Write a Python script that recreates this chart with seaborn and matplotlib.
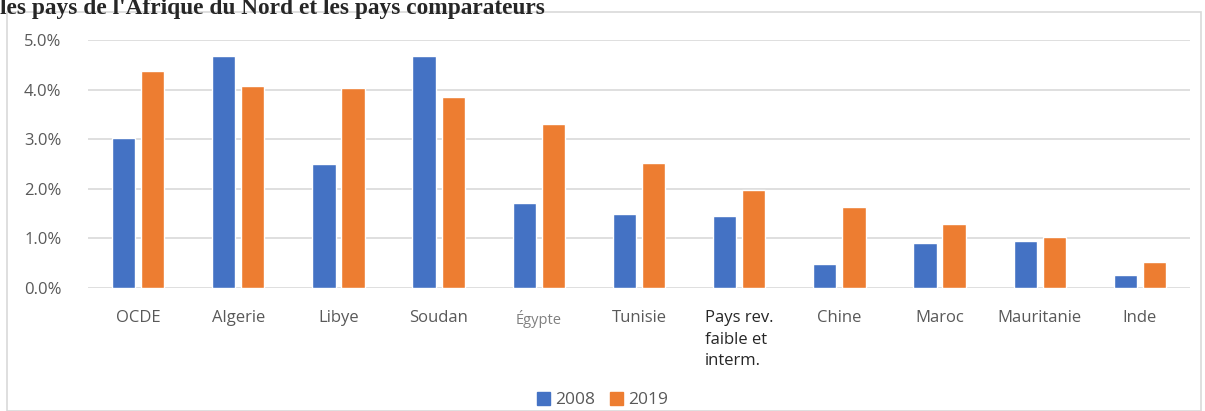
import pandas as pd
import seaborn as sns
import matplotlib.pyplot as plt
from matplotlib.patches import Rectangle
from matplotlib.ticker import FuncFormatter

pays = ['OCDE', 'Algerie', 'Libye', 'Soudan', 'Égypte', 'Tunisie',
        'Pays rev.\nfaible et\ninterm.', 'Chine', 'Maroc', 'Mauritanie', 'Inde']
val_2008 = [3.02, 4.68, 2.49, 4.67, 1.71, 1.50, 1.46, 0.48, 0.90, 0.95, 0.26]
val_2019 = [4.38, 4.08, 4.04, 3.86, 3.30, 2.53, 1.98, 1.63, 1.29, 1.03, 0.52]
annees = ['2008', '2019']
couleurs = ['#4472C4', '#ED7D31']

df = pd.DataFrame({'pays': pays * 2,
                   'annee': ['2008'] * len(pays) + ['2019'] * len(pays),
                   'valeur': val_2008 + val_2019})

sns.set_style('white')
plt.rcParams['font.family'] = ['Open Sans', 'DejaVu Sans']

fig = plt.figure(figsize=(12.05, 4.11), dpi=100)
ax = fig.add_axes([88 / 1205, 1 - 288 / 411, (1190 - 88) / 1205, (288 - 40) / 411])

sns.barplot(data=df, x='pays', y='valeur', hue='annee', hue_order=annees,
            palette=couleurs, width=0.58, gap=0.2, saturation=1,
            legend=False, ax=ax)

ax.set_ylim(0, 5)
ax.set_yticks([0, 1, 2, 3, 4, 5])
ax.yaxis.set_major_formatter(FuncFormatter(lambda v, p: f'{v:.1f}%'))
ax.grid(axis='y', color='#D9D9D9', linewidth=1.2)
ax.set_axisbelow(True)
for s in ax.spines.values():
    s.set_visible(False)
ax.tick_params(axis='both', length=0)
ax.tick_params(axis='y', pad=19, labelsize=12, labelcolor='#595959')
ax.tick_params(axis='x', pad=16, labelsize=12, labelcolor='#595959')
ax.set_xlabel('')
ax.set_ylabel('')

for lab in ax.get_xticklabels():
    if lab.get_text() == 'Égypte':
        lab.set_color('#808080')
        lab.set_fontsize(10.5)
    if lab.get_text().startswith('Pays'):
        lab.set_color('#262626')
        lab.set_multialignment('left')
        lab.set_linespacing(1.45)

# cadre du graphique
fig.patches.append(Rectangle((7 / 1205, 0), 1194 / 1205, 1 - 12 / 411,
                             transform=fig.transFigure, fill=False,
                             edgecolor='#D9D9D9', linewidth=1.2))

# titre (coupé en haut)
fig.text(0.0, 1 - 14 / 411, "les pays de l'Afrique du Nord et les pays comparateurs",
         family='Liberation Serif', fontweight='bold', fontsize=16.8,
         va='baseline', ha='left')

handles = [Rectangle((0, 0), 1, 1, color=c) for c in couleurs]
fig.legend(handles, annees, loc='center', bbox_to_anchor=(0.5, 1 - 400 / 411),
           ncol=2, frameon=False, fontsize=12.5, handlelength=0.8, handleheight=0.8,
           columnspacing=0.8, handletextpad=0.3, labelcolor='#595959')

fig.savefig('out.png', dpi=100)
